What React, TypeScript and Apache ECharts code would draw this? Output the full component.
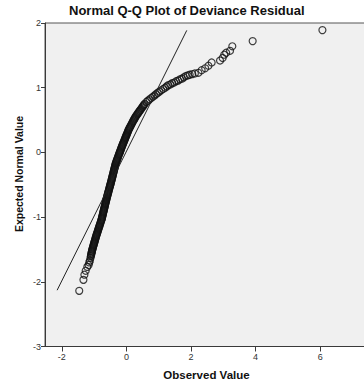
import React, { useEffect, useRef } from "react";
import * as echarts from "echarts";

const titleText = "Normal Q-Q Plot of Deviance Residual";
const xAxisName = "Observed Value";
const yAxisName = "Expected Normal Value";

const xTickValues = [-2, 0, 2, 4, 6];

// Observed deviance residuals (x)
const observedValues = [
  // lower tail
  -1.46, -1.33, -1.30, -1.26, -1.21, -1.17, -1.15, -1.13, -1.11,
  // dense band
  -1.100, -1.093, -1.087, -1.081, -1.075, -1.068, -1.062,
  -1.054, -1.046, -1.037, -1.029, -1.020, -1.011, -1.003, -0.994, -0.986, -0.977, -0.969, -0.960, -0.951, -0.943,
  -0.933, -0.924, -0.914, -0.904, -0.894, -0.884, -0.875, -0.865, -0.855, -0.845, -0.835, -0.826, -0.816, -0.806, -0.796, -0.786, -0.777,
  -0.767, -0.760, -0.753, -0.746, -0.739, -0.731, -0.724, -0.717, -0.710, -0.702, -0.695, -0.688, -0.680, -0.673, -0.666, -0.659, -0.652, -0.644, -0.637, -0.630, -0.622,
  -0.615, -0.607, -0.599, -0.591, -0.583, -0.575, -0.567, -0.559, -0.551, -0.543, -0.535, -0.527, -0.519, -0.511, -0.503, -0.495, -0.487, -0.479, -0.471, -0.463,
  -0.455, -0.448, -0.440, -0.433, -0.425, -0.418, -0.410, -0.403, -0.395, -0.388, -0.380, -0.373, -0.365, -0.358, -0.350, -0.343, -0.335,
  -0.326, -0.315, -0.304, -0.293, -0.283, -0.272, -0.261, -0.250, -0.239, -0.228, -0.217, -0.206, -0.195, -0.184, -0.173, -0.162, -0.151,
  -0.140, -0.128, -0.116, -0.104, -0.092, -0.079, -0.067, -0.055, -0.043, -0.031, -0.019, -0.007, 0.005, 0.017, 0.030, 0.042, 0.054, 0.066,
  0.080, 0.096, 0.112, 0.128, 0.143, 0.159, 0.175, 0.191, 0.206, 0.222, 0.238, 0.254, 0.270,
  0.287, 0.309, 0.330, 0.352, 0.373, 0.394, 0.416, 0.437, 0.459, 0.480, 0.502, 0.523, 0.544, 0.566,
  // bend
  0.62, 0.67, 0.72, 0.77, 0.82, 0.87, 0.92, 0.97, 1.02, 1.08, 1.14, 1.20, 1.25,
  1.30, 1.36, 1.42, 1.48, 1.54, 1.60, 1.66, 1.72, 1.78, 1.84, 1.90, 1.96, 2.04,
  // upper tail
  2.12, 2.23, 2.33, 2.44, 2.54, 2.64, 2.90, 2.98, 3.03, 3.09, 3.21, 3.28, 3.91, 6.07,
];

// Expected normal values (y)
const expectedValues = [
  // lower tail
  -2.14, -1.97, -1.89, -1.83, -1.77, -1.74, -1.70, -1.67, -1.63,
  // dense band
  -1.605, -1.590, -1.575, -1.560, -1.545, -1.530, -1.515,
  -1.500, -1.485, -1.470, -1.455, -1.440, -1.425, -1.410, -1.395, -1.380, -1.365, -1.350, -1.335, -1.320, -1.305,
  -1.290, -1.275, -1.260, -1.245, -1.230, -1.215, -1.200, -1.185, -1.170, -1.155, -1.140, -1.125, -1.110, -1.095, -1.080, -1.065, -1.050,
  -1.035, -1.020, -1.005, -0.990, -0.975, -0.960, -0.945, -0.930, -0.915, -0.900, -0.885, -0.870, -0.855, -0.840, -0.825, -0.810, -0.795, -0.780, -0.765, -0.750, -0.735,
  -0.720, -0.705, -0.690, -0.675, -0.660, -0.645, -0.630, -0.615, -0.600, -0.585, -0.570, -0.555, -0.540, -0.525, -0.510, -0.495, -0.480, -0.465, -0.450, -0.435,
  -0.420, -0.405, -0.390, -0.375, -0.360, -0.345, -0.330, -0.315, -0.300, -0.285, -0.270, -0.255, -0.240, -0.225, -0.210, -0.195, -0.180,
  -0.165, -0.150, -0.135, -0.120, -0.105, -0.090, -0.075, -0.060, -0.045, -0.030, -0.015, 0.000, 0.015, 0.030, 0.045, 0.060, 0.075,
  0.090, 0.105, 0.120, 0.135, 0.150, 0.165, 0.180, 0.195, 0.210, 0.225, 0.240, 0.255, 0.270, 0.285, 0.300, 0.315, 0.330, 0.345,
  0.360, 0.375, 0.390, 0.405, 0.420, 0.435, 0.450, 0.465, 0.480, 0.495, 0.510, 0.525, 0.540,
  0.555, 0.570, 0.585, 0.600, 0.615, 0.630, 0.645, 0.660, 0.675, 0.690, 0.705, 0.720, 0.735, 0.750,
  // bend
  0.78, 0.80, 0.82, 0.84, 0.86, 0.88, 0.90, 0.92, 0.94, 0.96, 0.98, 1.00, 1.02,
  1.04, 1.05, 1.07, 1.08, 1.10, 1.11, 1.13, 1.14, 1.16, 1.18, 1.19, 1.20, 1.21,
  // upper tail
  1.22, 1.23, 1.27, 1.30, 1.34, 1.39, 1.42, 1.46, 1.51, 1.54, 1.57, 1.64, 1.72, 1.89,
];

// Reference line endpoints
const refLineX = [-2.145, 1.87];
const refLineY = [-2.13, 1.886];

export default function App() {
  const ref = useRef<HTMLDivElement>(null);
  useEffect(() => {
    if (!ref.current) return;
    const chart = echarts.init(ref.current, null, { renderer: "svg" });
    const pts = observedValues.map((x, i) => [x, expectedValues[i]]);
    const linePts = refLineX.map((x, i) => [x, refLineY[i]]);
    const axisColor = "#3a3a3a";
    const labelStyle = { color: "#333", fontSize: 9, fontFamily: "Liberation Sans, Arial, sans-serif" };
    chart.setOption({
      animation: false,
      backgroundColor: "#ffffff",
      grid: {
        left: 45,
        top: 23,
        width: 323.6,
        height: 323.5,
        show: true,
        backgroundColor: "#f0f0f0",
        borderColor: "#555",
        borderWidth: 1,
      },
      xAxis: {
        type: "value",
        min: -2.52,
        max: 7.5,
        splitLine: { show: false },
        axisLine: { show: true, onZero: false, lineStyle: { color: axisColor, width: 1 } },
        axisTick: { show: true, length: 5, customValues: xTickValues, lineStyle: { color: axisColor } },
        axisLabel: { ...labelStyle, margin: 6, customValues: xTickValues },
      },
      yAxis: {
        type: "value",
        min: -3,
        max: 2,
        interval: 1,
        splitLine: { show: false },
        axisLine: { show: true, onZero: false, lineStyle: { color: axisColor, width: 1 } },
        axisTick: { show: true, length: 4, lineStyle: { color: axisColor } },
        axisLabel: { ...labelStyle, margin: 4 },
      },
      graphic: [
        {
          type: "text",
          left: 187 - 118,
          top: 4,
          style: {
            text: titleText,
            font: "bold 13px 'Liberation Sans', Arial, sans-serif",
            fill: "#111",
          },
        },
        {
          type: "text",
          x: 206.5,
          y: 375,
          style: {
            text: xAxisName,
            font: "bold 11.5px 'Liberation Sans', Arial, sans-serif",
            fill: "#111",
            align: "center",
            verticalAlign: "middle",
          },
        },
        {
          type: "text",
          x: 18.5,
          y: 174,
          rotation: Math.PI / 2,
          style: {
            text: yAxisName,
            font: "bold 10.5px 'Liberation Sans', Arial, sans-serif",
            fill: "#111",
            align: "center",
            verticalAlign: "middle",
          },
        },
      ],
      series: [
        {
          type: "line",
          data: linePts,
          symbol: "none",
          lineStyle: { color: "#222", width: 1 },
          silent: true,
          z: 3,
        },
        {
          type: "scatter",
          data: pts,
          symbol: "circle",
          symbolSize: 7,
          itemStyle: { color: "rgba(0,0,0,0)", borderColor: "#111", borderWidth: 1.2 },
          z: 2,
        },
      ],
    });
    return () => chart.dispose();
  }, []);
  return (
    <div style={{ position: "absolute", left: 0, top: 0, width: 364, height: 385, overflow: "hidden", background: "#fff" }}>
      <div ref={ref} style={{ width: 390, height: 385 }} />
    </div>
  );
}
